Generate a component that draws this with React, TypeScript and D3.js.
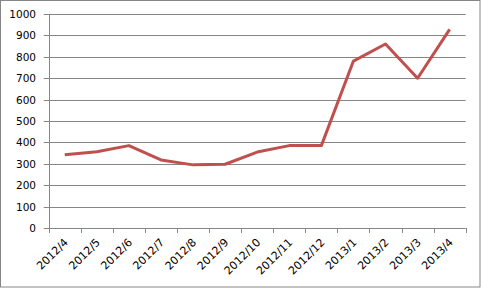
import React from "react";
import * as d3 from "d3";

const categories = ["2012/4","2012/5","2012/6","2012/7","2012/8","2012/9","2012/10","2012/11","2012/12","2013/1","2013/2","2013/3","2013/4"];
const values = [342, 356, 385, 318, 295, 298, 355, 385, 385, 780, 860, 700, 928];
const yTicks = [0,100,200,300,400,500,600,700,800,900,1000];

const W = 481, H = 289;
const left = 48.7, right = 465.7, top = 14, bottom = 228;
const grid = "#868686";
const font = "'DejaVu Sans', Verdana, sans-serif";

export default function App() {
  const x = d3.scaleBand<string>().domain(categories).range([left, right]).padding(0);
  const y = d3.scaleLinear().domain([0, 1000]).range([bottom, top]);
  const line = d3.line<number>()
    .x((_, i) => (x(categories[i]) as number) + x.bandwidth() / 2)
    .y((d) => y(d));
  const bounds = categories.map((c) => x(c) as number).concat([right]);
  return (
    <div style={{ position: "fixed", left: 0, top: 0 }}>
      <svg width={W} height={H} style={{ display: "block", background: "#fff" }}>
        <rect x={0.5} y={0.5} width={479.5} height={286.5} fill="#fff" stroke={grid} strokeWidth={1} />
        {yTicks.map((t) => (
          <g key={t}>
            <line x1={left - 5} x2={right} y1={Math.round(y(t)) + 0.5} y2={Math.round(y(t)) + 0.5} stroke={grid} strokeWidth={1} />
            <text x={36} y={Math.round(y(t)) + 4} textAnchor="end" fontFamily={font} fontSize={10.5} fill="#000">{t}</text>
          </g>
        ))}
        <line x1={Math.round(left) + 0.5} x2={Math.round(left) + 0.5} y1={top} y2={bottom + 5} stroke={grid} />
        {bounds.map((b, i) => (
          <line key={i} x1={Math.round(b) + 0.5} x2={Math.round(b) + 0.5} y1={bottom} y2={bottom + 5} stroke={grid} />
        ))}
        {categories.map((c) => {
          const cx = (x(c) as number) + x.bandwidth() / 2 + 4;
          const cy = 243;
          return (
            <text key={c} x={cx} y={cy} textAnchor="end" fontFamily={font} fontSize={11} fill="#000"
              transform={`rotate(-45 ${cx} ${cy})`}>{c}</text>
          );
        })}
        <path d={line(values) || ""} fill="none" stroke="#C0504D" strokeWidth={3} strokeLinejoin="round" />
      </svg>
    </div>
  );
}
